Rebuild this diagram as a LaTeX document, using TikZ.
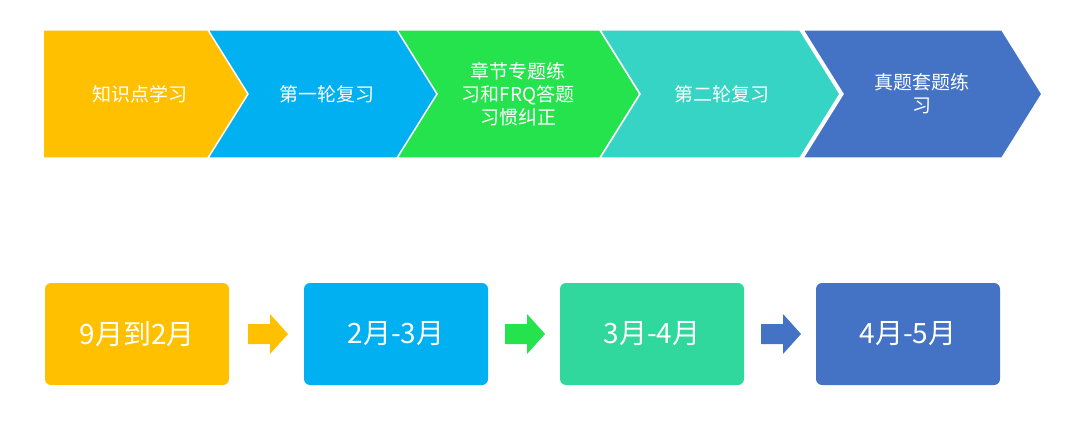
\documentclass[tikz,border=0pt]{standalone}
\usepackage{fontspec}
\setmainfont{Noto Sans CJK SC}
\begin{document}
\begin{tikzpicture}[x=1pt,y=-1pt,
  chev/.style={draw=white,line width=1.5pt},
  ctext/.style={text=white,font=\fontsize{19}{23}\selectfont,align=center},
  box/.style={rounded corners=6pt,minimum width=184pt,minimum height=102pt,text=white,font=\fontsize{28}{32}\selectfont},
  barrow/.style={}]
\definecolor{cY}{HTML}{FFC000}
\definecolor{cB}{HTML}{00B0F0}
\definecolor{cG}{HTML}{25E34C}
\definecolor{cT}{HTML}{36D4C5}
\definecolor{cD}{HTML}{4472C4}
\definecolor{cM}{HTML}{30D89E}
\useasboundingbox (0,0) rectangle (1080,428);
% chevrons
\fill[cY,chev] (43,30) -- (215,30) -- (255,94) -- (215,158) -- (43,158) -- cycle;
\fill[cB,chev] (208,30) -- (405,30) -- (445,94) -- (405,158) -- (208,158) -- (248,94) -- cycle;
\fill[cG,chev] (397,30) -- (600,30) -- (640,94) -- (600,158) -- (397,158) -- (437,94) -- cycle;
\fill[cT,chev] (600,30) -- (800,30) -- (840,94) -- (800,158) -- (600,158) -- (640,94) -- cycle;
\fill[cD,chev] (803,30) -- (1002,30) -- (1042,94) -- (1002,158) -- (803,158) -- (843,94) -- cycle;
\node[ctext] (t1) at (140,94) {知识点学习};
\node[ctext] (t2) at (327,94) {第一轮复习};
\node[ctext] (t3) at (518,94) {章节专题练\\习和FRQ答题\\习惯纠正};
\node[ctext] (t4) at (722,94) {第二轮复习};
\node[ctext] (t5) at (922,94) {真题套题练\\习};
% boxes
\node[box,fill=cY] (b1) at (137,334) {9月到2月};
\node[box,fill=cB] (b2) at (396,334) {2月-3月};
\node[box,fill=cM] (b3) at (652,334) {3月-4月};
\node[box,fill=cD] (b4) at (908,334) {4月-5月};
% block arrows
\foreach \x/\c in {248/cY,505/cG,761/cD}{
  \fill[\c] (\x,324) -- (\x+22,324) -- (\x+22,314) -- (\x+40,334) -- (\x+22,354) -- (\x+22,344) -- (\x,344) -- cycle;
}
\end{tikzpicture}
\end{document}
